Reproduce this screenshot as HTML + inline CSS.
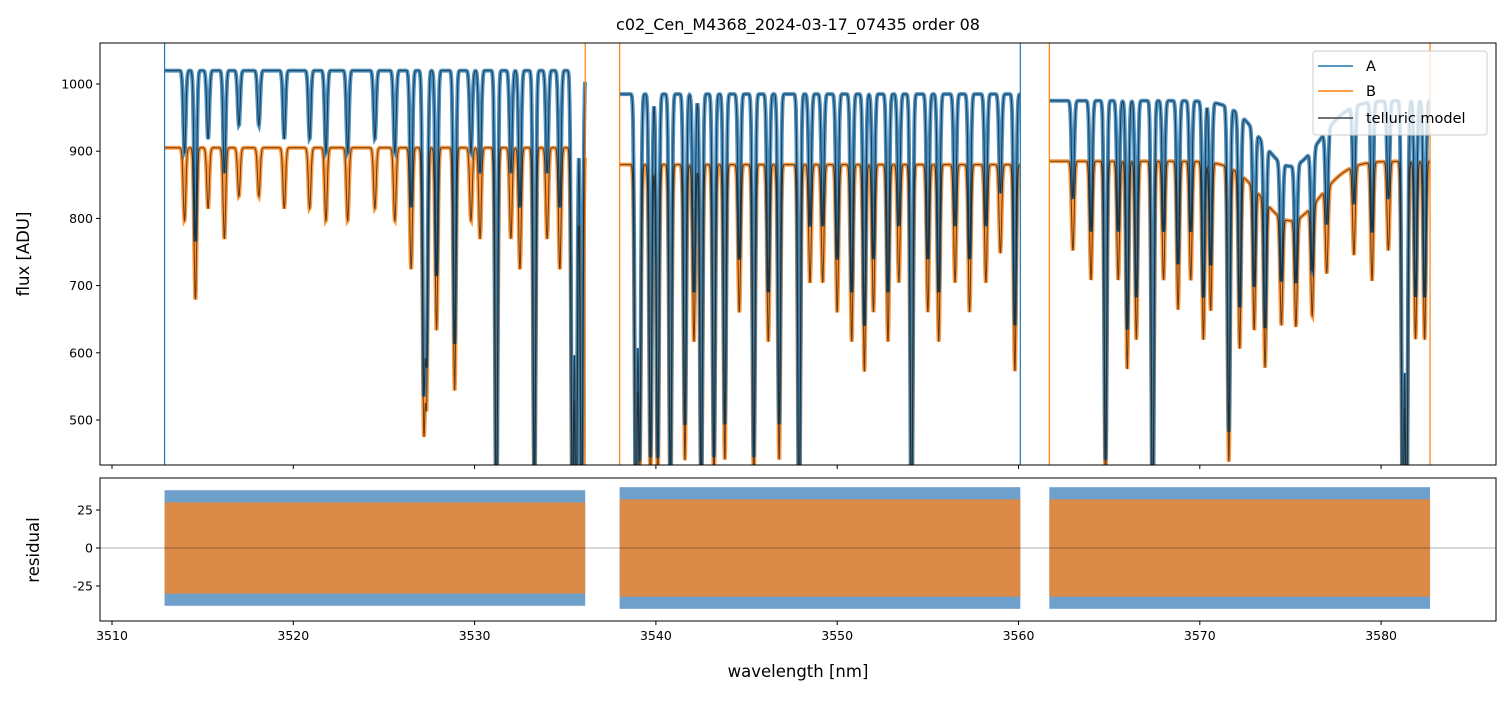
<!DOCTYPE html>
<html><head><meta charset="utf-8"><style>
body{margin:0;background:#fff;font-family:"Liberation Sans","DejaVu Sans",sans-serif}
svg text{font-family:"DejaVu Sans","Liberation Sans",sans-serif}
</style></head><body>
<svg id="c" width="1510" height="696" xmlns="http://www.w3.org/2000/svg"></svg>
<script>
const segments=[[3512.9,3536.1],[3538.0,3560.1],[3561.7,3582.7]];
const contA=[1020,985,975];
const contB=[905,880,885];
const lineCenters=[3514.0,3514.6,3515.3,3516.2,3517.0,3518.1,3519.5,3520.9,3521.8,3523.0,3524.5,3525.6,3526.5,3527.2,3527.35,3527.9,3528.9,3529.8,3530.3,3531.2,3532.0,3532.5,3533.3,3534.0,3534.7,3535.4,3535.6,3535.9,
3538.9,3539.1,3539.7,3540.1,3540.8,3541.6,3542.1,3542.5,3543.2,3543.8,3544.6,3545.4,3546.2,3546.8,3547.9,3548.5,3549.2,3550.0,3550.8,3551.5,3552.0,3552.8,3553.4,3554.1,3555.0,3555.6,3556.5,3557.3,3558.2,3559.0,3559.8,
3563.0,3564.0,3564.8,3565.5,3566.0,3566.5,3567.4,3568.0,3568.8,3569.5,3570.2,3570.6,3571.6,3572.2,3573.0,3573.6,3574.5,3575.3,3576.2,3577.0,3578.5,3579.5,3580.4,3581.2,3581.4,3581.9,3582.4,3575.0];
const lineDepths=[0.12,0.25,0.1,0.15,0.08,0.08,0.1,0.1,0.12,0.12,0.1,0.12,0.2,0.45,0.4,0.3,0.4,0.12,0.15,0.65,0.15,0.2,0.6,0.15,0.2,0.65,0.65,0.65,
0.65,0.55,0.55,0.55,0.6,0.5,0.3,0.6,0.55,0.5,0.25,0.55,0.3,0.5,0.65,0.2,0.2,0.25,0.3,0.35,0.25,0.3,0.2,0.65,0.25,0.3,0.2,0.25,0.2,0.15,0.35,
0.15,0.2,0.55,0.2,0.35,0.3,0.65,0.2,0.25,0.2,0.3,0.25,0.5,0.3,0.25,0.3,0.2,0.2,0.2,0.15,0.15,0.2,0.15,0.65,0.65,0.3,0.3,0.1];
const lineWidths=lineCenters.map((c,i)=>i===lineCenters.length-1?1.6:0.07);
const spikesA=[3512.9,3560.1];
const spikesB=[3536.1,3538.0,3561.7,3582.7];
const xTicks=[3510,3520,3530,3540,3550,3560,3570,3580];
const yTicks=[500,600,700,800,900,1000];
const rTicks=[-25,0,25];
const resAmpA=[38,40,40];
const resAmpB=[30,32,32];

const svg=document.getElementById('c');const NS='http://www.w3.org/2000/svg';
function el(t,a,p){const e=document.createElementNS(NS,t);for(const k in a)e.setAttribute(k,a[k]);(p||svg).appendChild(e);return e;}
const L=100,R=1496,T1=43,B1=465,T2=478,B2=621;
const X=w=>112+(w-3510)*18.13;
const Y=v=>84+(1000-v)*0.672;
const YR=v=>548-v*1.52;
el('defs',{}).innerHTML='<clipPath id="cp1"><rect x="100" y="43" width="1396" height="422"/></clipPath><clipPath id="cp2"><rect x="100" y="478" width="1396" height="143"/></clipPath>';
const gTop=el('g',{'clip-path':'url(#cp1)'});
function model(w,c){let f=c;for(let i=0;i<lineCenters.length;i++){const d=(w-lineCenters[i])/lineWidths[i];if(Math.abs(d)<5)f*=1-lineDepths[i]*Math.exp(-d*d/2);}return f;}
function pathFor(cont){let d='';segments.forEach((s,si)=>{let first=true;for(let w=s[0];w<=s[1];w+=0.015){d+=(first?'M':'L')+X(w).toFixed(1)+','+Y(model(w,cont[si])).toFixed(1);first=false;}});return d;}
let p=el('path',{d:pathFor(contB),fill:'none',stroke:'#ff7f0e','stroke-width':4,'stroke-opacity':0.8},gTop);
p=el('path',{d:pathFor(contA),fill:'none',stroke:'#1f77b4','stroke-width':4,'stroke-opacity':0.8},gTop);
p=el('path',{d:pathFor(contA)+pathFor(contB),fill:'none',stroke:'#000','stroke-width':1,'stroke-opacity':0.6},gTop);
spikesA.forEach(w=>{const s=el('line',{x1:X(w),x2:X(w),y1:T1,y2:B1,stroke:'#1f77b4','stroke-width':1.2},gTop);});
spikesB.forEach(w=>{const s=el('line',{x1:X(w),x2:X(w),y1:T1,y2:B1,stroke:'#ff7f0e','stroke-width':1.2},gTop);});
const gBot=el('g',{'clip-path':'url(#cp2)'});
segments.forEach((s,i)=>{
 let r=el('rect',{x:X(s[0]),width:X(s[1])-X(s[0]),y:YR(resAmpA[i]),height:YR(-resAmpA[i])-YR(resAmpA[i]),fill:'#6fa0cc'},gBot);
 r=el('rect',{x:X(s[0]),width:X(s[1])-X(s[0]),y:YR(resAmpB[i]),height:YR(-resAmpB[i])-YR(resAmpB[i]),fill:'#e8873a','fill-opacity':0.9},gBot);
});
el('line',{x1:L,x2:R,y1:YR(0),y2:YR(0),stroke:'#000','stroke-width':0.6,'stroke-opacity':0.6},gBot);
[[T1,B1],[T2,B2]].forEach(([t,b])=>{const f=el('rect',{x:L,y:t,width:R-L,height:b-t,fill:'none',stroke:'#000','stroke-width':1});
 xTicks.forEach(v=>el('line',{x1:X(v),x2:X(v),y1:b,y2:b+4,stroke:'#000'}));});
xTicks.forEach(v=>{const t=el('text',{x:X(v),y:640,'font-size':12.5,'text-anchor':'middle'});t.textContent=v;});
yTicks.forEach(v=>{el('line',{x1:L-4,x2:L,y1:Y(v),y2:Y(v),stroke:'#000'});const t=el('text',{x:L-7,y:Y(v)+4.5,'font-size':12.5,'text-anchor':'end'});t.textContent=v;});
rTicks.forEach(v=>{el('line',{x1:L-4,x2:L,y1:YR(v),y2:YR(v),stroke:'#000'});const t=el('text',{x:L-7,y:YR(v)+4.5,'font-size':12.5,'text-anchor':'end'});t.textContent=v;});
let t=el('text',{x:798,y:30,'font-size':16,'text-anchor':'middle'});t.textContent='c02_Cen_M4368_2024-03-17_07435  order 08';
t=el('text',{x:798,y:677,'font-size':16.5,'text-anchor':'middle'});t.textContent='wavelength [nm]';
t=el('text',{x:0,y:0,'font-size':16.5,'text-anchor':'middle',transform:'translate(29,254) rotate(-90)'});t.textContent='flux [ADU]';
t=el('text',{x:0,y:0,'font-size':16.5,'text-anchor':'middle',transform:'translate(39,550) rotate(-90)'});t.textContent='residual';
const lg=el('g',{});
el('rect',{x:1313,y:51,width:174,height:84,rx:3,fill:'#fff','fill-opacity':0.8,stroke:'#ccc'},lg);
[['A','#1f77b4',66],['B','#ff7f0e',91],['telluric model','#444',118]].forEach(([n,c,y])=>{const e=el('g',{},lg);
 el('line',{x1:1318,x2:1353,y1:y,y2:y,stroke:c,'stroke-width':1.5},e);const tt=el('text',{x:1366,y:y+5,'font-size':14.5},e);tt.textContent=n;});
</script>
</body></html>
